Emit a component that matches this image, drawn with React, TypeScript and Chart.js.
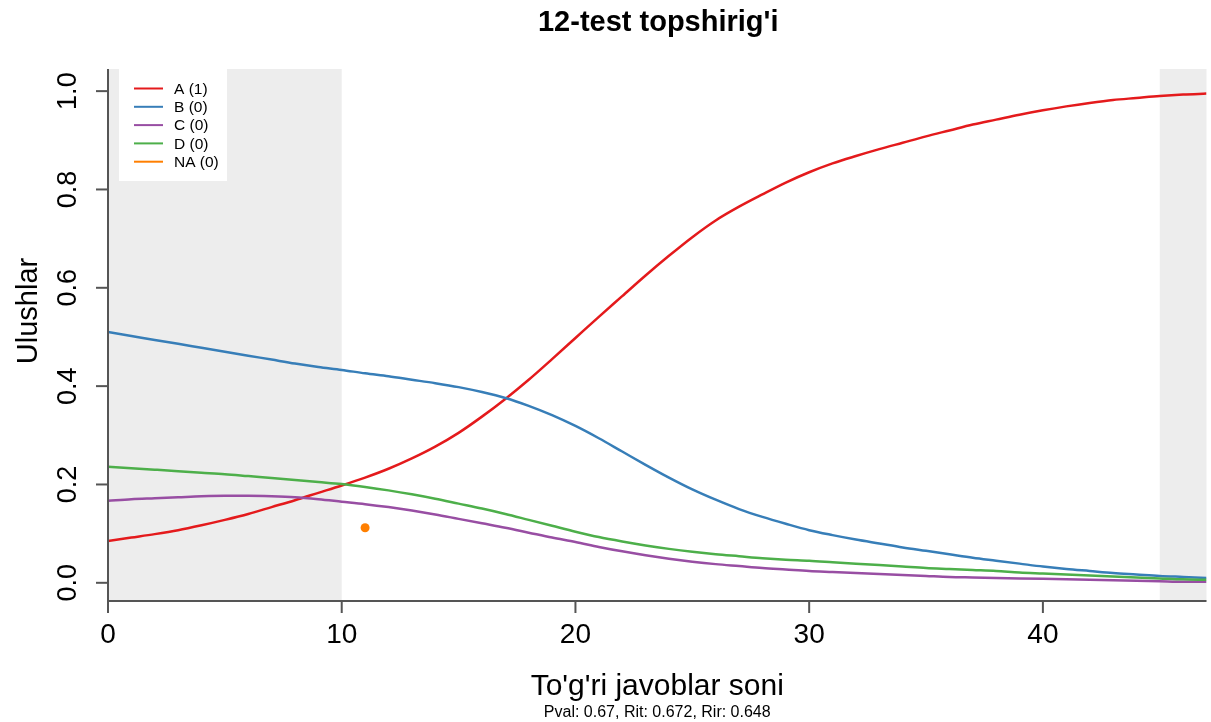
import React, { useEffect, useRef } from "react";
import { Chart, registerables } from "chart.js";

Chart.register(...registerables);

const TITLE = "12-test topshirig'i";
const X_TITLE = "To'g'ri javoblar soni";
const Y_TITLE = "Ulushlar";
const SUBTITLE = "Pval: 0.67, Rit: 0.672, Rir: 0.648";

const X_VALUES = [
  0, 1, 2, 3, 4, 5, 6, 7, 8, 9, 10, 11, 12, 13, 14, 15, 16, 17, 18, 19, 20, 21, 22, 23,
  24, 25, 26, 27, 28, 29, 30, 31, 32, 33, 34, 35, 36, 37, 38, 39, 40, 41, 42, 43, 44, 45, 46, 47,
];

const SERIES_A = [
  0.085, 0.092, 0.099, 0.107, 0.117, 0.128, 0.14, 0.154, 0.168, 0.183, 0.198, 0.214, 0.232, 0.253,
  0.277, 0.305, 0.338, 0.374, 0.413, 0.455, 0.498, 0.541, 0.583, 0.625, 0.665, 0.703, 0.737, 0.765,
  0.79, 0.814, 0.835, 0.853, 0.868, 0.882, 0.895, 0.908, 0.92, 0.932, 0.942, 0.952, 0.961, 0.969,
  0.976, 0.982, 0.986, 0.99, 0.993, 0.995,
];

const SERIES_B = [
  0.51, 0.502, 0.494, 0.486, 0.478, 0.47, 0.462, 0.454, 0.446, 0.439, 0.433, 0.426, 0.42, 0.413,
  0.406, 0.398, 0.388, 0.376, 0.36, 0.341, 0.319, 0.294, 0.267, 0.24, 0.214, 0.19, 0.169, 0.15,
  0.134, 0.12, 0.107, 0.097, 0.088, 0.08, 0.072, 0.065, 0.058, 0.051, 0.045, 0.039, 0.033, 0.028,
  0.024, 0.02, 0.017, 0.014, 0.012, 0.01,
];

const SERIES_C = [
  0.167, 0.17, 0.172, 0.174, 0.176, 0.177, 0.177, 0.176, 0.174, 0.17, 0.165, 0.16, 0.154, 0.147,
  0.139, 0.13, 0.121, 0.112, 0.102, 0.092, 0.083, 0.073, 0.064, 0.056, 0.049, 0.043, 0.038, 0.034,
  0.03, 0.027, 0.024, 0.022, 0.02, 0.018, 0.016, 0.014, 0.012, 0.011, 0.01, 0.009, 0.008, 0.007,
  0.006, 0.005, 0.004, 0.003, 0.002, 0.002,
];

const SERIES_D = [
  0.236, 0.233, 0.23, 0.227, 0.224, 0.221, 0.217, 0.213, 0.209, 0.205, 0.201, 0.195, 0.188, 0.18,
  0.171, 0.161, 0.151, 0.14, 0.128, 0.116, 0.104, 0.093, 0.084, 0.076, 0.069, 0.063, 0.058, 0.054,
  0.05, 0.047, 0.045, 0.042, 0.039, 0.036, 0.033, 0.03, 0.028, 0.026, 0.024, 0.021, 0.019, 0.017,
  0.015, 0.013, 0.011, 0.009, 0.007, 0.006,
];

const NA_X = [11];
const NA_Y = [0.112];

const LEGEND_LABELS = ["A (1)", "B (0)", "C (0)", "D (0)", "NA (0)"];
const COLORS = ["#E41A1C", "#377EB8", "#984EA3", "#4DAF4A", "#FF7F00"];

const X_TICKS = [0, 10, 20, 30, 40];
const X_TICK_LABELS = ["0", "10", "20", "30", "40"];
const Y_TICKS = [0, 0.2, 0.4, 0.6, 0.8, 1.0];
const Y_TICK_LABELS = ["0.0", "0.2", "0.4", "0.6", "0.8", "1.0"];

const SHADE_FROM = [0, 45];
const SHADE_TO = [10, 47];

const FONT = '"Liberation Sans", Arial, sans-serif';

const decorPlugin = {
  id: "decor",
  beforeDatasetsDraw(chart: any) {
    const { ctx, chartArea, scales } = chart;
    const xs = scales.x;
    ctx.save();
    ctx.fillStyle = "#EDEDED";
    for (let i = 0; i < SHADE_FROM.length; i++) {
      const x0 = xs.getPixelForValue(SHADE_FROM[i]);
      const x1 = xs.getPixelForValue(SHADE_TO[i]);
      ctx.fillRect(x0, chartArea.top, x1 - x0, chartArea.bottom - chartArea.top);
    }
    ctx.restore();
  },
  afterDraw(chart: any) {
    const { ctx, chartArea, scales } = chart;
    const xs = scales.x;
    const ys = scales.y;
    const ca = chartArea;
    ctx.save();
    // axes
    ctx.strokeStyle = "#555555";
    ctx.lineWidth = 2;
    ctx.beginPath();
    ctx.moveTo(ca.left, ca.top);
    ctx.lineTo(ca.left, ca.bottom);
    ctx.lineTo(ca.right, ca.bottom);
    ctx.stroke();

    // x ticks
    ctx.fillStyle = "#000000";
    ctx.font = `28px ${FONT}`;
    ctx.textAlign = "center";
    ctx.textBaseline = "alphabetic";
    X_TICKS.forEach((v, i) => {
      const px = xs.getPixelForValue(v);
      ctx.beginPath();
      ctx.moveTo(px, ca.bottom);
      ctx.lineTo(px, ca.bottom + 12);
      ctx.stroke();
      ctx.fillText(X_TICK_LABELS[i], px, 643);
    });

    // y ticks
    Y_TICKS.forEach((v, i) => {
      const py = ys.getPixelForValue(v);
      ctx.beginPath();
      ctx.moveTo(ca.left, py);
      ctx.lineTo(ca.left - 12, py);
      ctx.stroke();
      ctx.save();
      ctx.translate(76, py);
      ctx.rotate(-Math.PI / 2);
      ctx.textAlign = "center";
      ctx.textBaseline = "alphabetic";
      ctx.font = `27px ${FONT}`;
      ctx.fillText(Y_TICK_LABELS[i], 0, 0);
      ctx.restore();
    });

    // y title
    ctx.save();
    ctx.translate(37, 311);
    ctx.rotate(-Math.PI / 2);
    ctx.textAlign = "center";
    ctx.font = `29px ${FONT}`;
    ctx.fillText(Y_TITLE, 0, 0);
    ctx.restore();

    // title
    const cx = (ca.left + ca.right) / 2;
    ctx.textAlign = "center";
    ctx.font = `bold 29px ${FONT}`;
    ctx.fillText(TITLE, cx + 1, 31);

    // x title
    ctx.font = `30px ${FONT}`;
    ctx.fillText(X_TITLE, cx, 695);

    // subtitle
    ctx.font = `16px ${FONT}`;
    ctx.fillText(SUBTITLE, cx, 717);

    // legend
    ctx.fillStyle = "#FFFFFF";
    ctx.fillRect(119, 69, 108, 112);
    ctx.font = `15.5px ${FONT}`;
    ctx.textAlign = "left";
    ctx.textBaseline = "middle";
    LEGEND_LABELS.forEach((lab, i) => {
      const ly = 88.5 + i * 18.3;
      ctx.strokeStyle = COLORS[i];
      ctx.lineWidth = 2;
      ctx.beginPath();
      ctx.moveTo(134, ly);
      ctx.lineTo(163, ly);
      ctx.stroke();
      ctx.fillStyle = "#000000";
      ctx.fillText(lab, 174, ly + 1);
    });
    ctx.restore();
  },
};

export default function App() {
  const canvasRef = useRef<HTMLCanvasElement | null>(null);

  useEffect(() => {
    const canvas = canvasRef.current;
    if (!canvas) return;
    const lineSeries = [SERIES_A, SERIES_B, SERIES_C, SERIES_D];
    const datasets: any[] = lineSeries.map((s, k) => ({
      label: LEGEND_LABELS[k],
      data: X_VALUES.map((x, i) => ({ x, y: s[i] })),
      borderColor: COLORS[k],
      backgroundColor: COLORS[k],
      borderWidth: 2.5,
      pointRadius: 0,
      cubicInterpolationMode: "monotone",
      fill: false,
    }));
    datasets.reverse();
    datasets.push({
      label: LEGEND_LABELS[4],
      data: NA_X.map((x, i) => ({ x, y: NA_Y[i] })),
      borderColor: COLORS[4],
      backgroundColor: COLORS[4],
      showLine: false,
      pointRadius: 4.5,
      borderWidth: 0,
    });

    const chart = new Chart(canvas, {
      type: "line",
      data: { datasets },
      options: {
        animation: false,
        responsive: false,
        maintainAspectRatio: false,
        layout: { padding: { left: 108, right: 1, top: 69, bottom: 121 } },
        scales: {
          x: { type: "linear", min: 0, max: 47, display: false },
          y: { type: "linear", min: -0.037, max: 1.045, display: false },
        },
        plugins: {
          legend: { display: false },
          title: { display: false },
          tooltip: { enabled: false },
        },
      },
      plugins: [decorPlugin],
    });
    return () => chart.destroy();
  }, []);

  return (
    <div style={{ position: "fixed", left: 0, top: 0, width: 1211, height: 722, background: "#fff" }}>
      <canvas ref={canvasRef} width={1211} height={722} style={{ width: 1211, height: 722 }} />
    </div>
  );
}
